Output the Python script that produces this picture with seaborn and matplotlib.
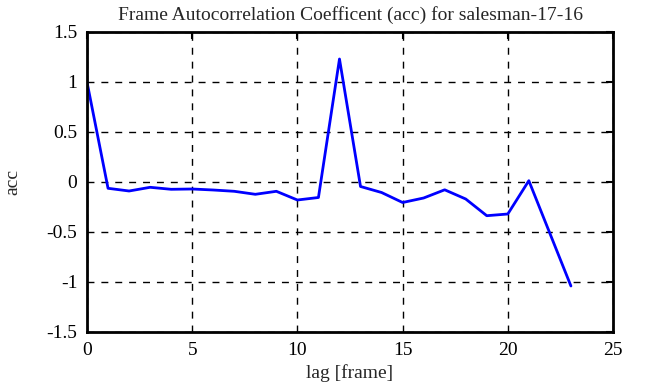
"""
Frame autocorrelation coefficient chart (salesman-17-16).
"""

import pandas as pd
import matplotlib
matplotlib.use("Agg")
import matplotlib.pyplot as plt
import seaborn as sns

# lag in frames and the matching acc values
lags = [0, 1, 2, 3, 4, 5, 6, 7, 8, 9, 10, 11, 12, 13, 14, 15, 16, 17, 18, 19, 20, 21, 23]
acc = [1.0, -0.063, -0.09, -0.053, -0.073, -0.07, -0.08, -0.093, -0.123, -0.093,
       -0.18, -0.155, 1.23, -0.045, -0.105, -0.205, -0.16, -0.078, -0.17, -0.337,
       -0.32, 0.013, -1.04]

x_ticks = [0, 5, 10, 15, 20, 25]
y_ticks = [-1.5, -1, -0.5, 0, 0.5, 1, 1.5]
y_tick_labels = ["-1.5", "-1", "-0.5", "0", "0.5", "1", "1.5"]


def main():
    sns.set_style("white")
    plt.rcParams["font.family"] = ["Liberation Serif", "DejaVu Serif"]

    data = pd.DataFrame({"lag": lags, "acc": acc})

    fig = plt.figure(figsize=(6.46, 3.87), dpi=100)
    ax = fig.add_axes([87 / 646, 1 - 332 / 387, (613 - 87) / 646, 300 / 387])

    sns.lineplot(data=data, x="lag", y="acc", ax=ax, color="#0000ff", linewidth=2)

    ax.set_xlim(0, 25)
    ax.set_ylim(-1.5, 1.5)
    ax.set_xticks(x_ticks)
    ax.set_yticks(y_ticks)
    ax.set_yticklabels(y_tick_labels)
    ax.grid(True, color="black", linestyle=(0, (5, 5)), linewidth=1)

    for spine in ax.spines.values():
        spine.set_color("black")
        spine.set_linewidth(2)

    ax.tick_params(direction="in", length=5, width=1.5, top=True, right=True,
                   labelsize=14, colors="black", pad=7)

    ax.set_title("Frame Autocorrelation Coefficent (acc) for salesman-17-16",
                 fontsize=14, pad=9)
    ax.set_xlabel("lag [frame]", fontsize=14, labelpad=4)
    ax.set_ylabel("acc", fontsize=14, labelpad=18)

    fig.savefig("out.png", dpi=100)


if __name__ == "__main__":
    main()
